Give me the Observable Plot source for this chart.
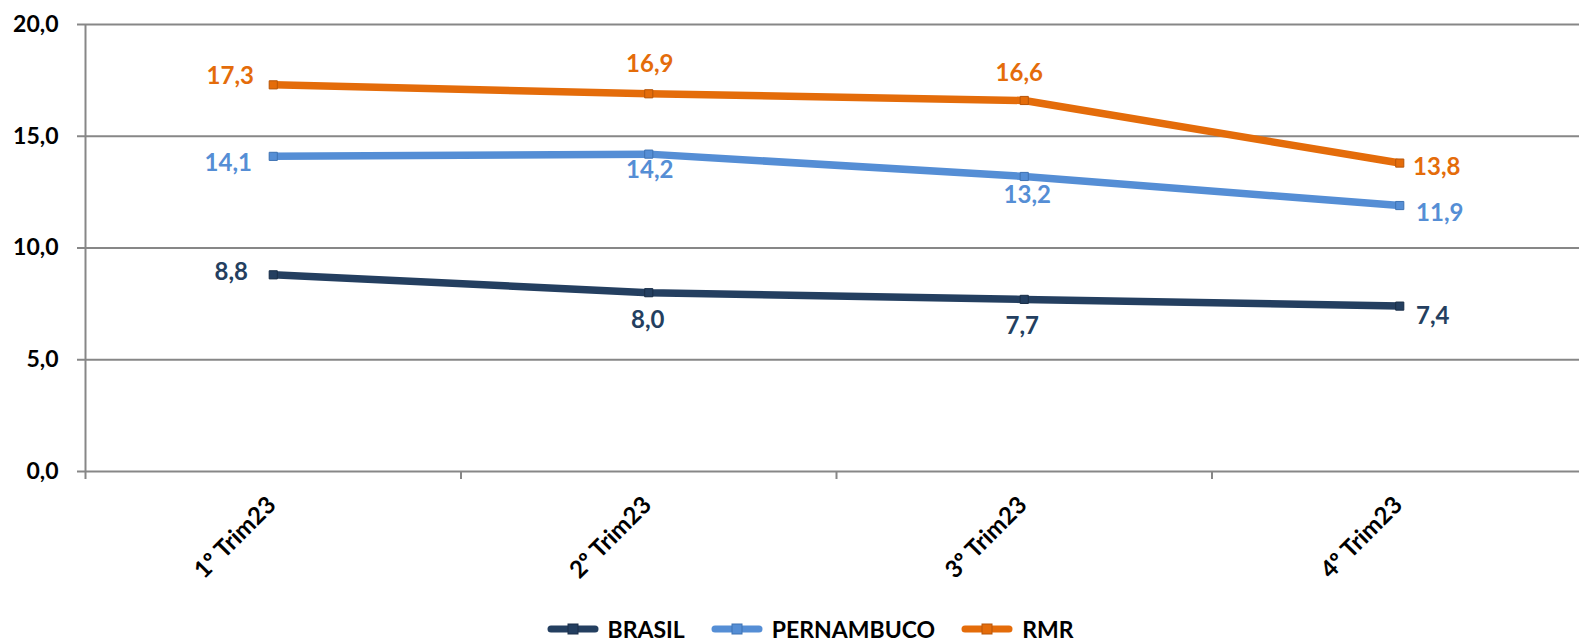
<!DOCTYPE html>
<html><head><meta charset="utf-8">
<script src="https://cdn.jsdelivr.net/npm/d3@7"></script>
<script src="https://cdn.jsdelivr.net/npm/@observablehq/plot@0.6"></script>
<style>
body{margin:0;background:#fff;font-family:Lato,"Open Sans",sans-serif;}
#wrap{position:relative;width:1579px;height:644px;overflow:hidden;}
#legend{position:absolute;left:0;top:615px;width:1579px;height:28px;display:flex;justify-content:center;align-items:center;padding-left:41px;box-sizing:border-box;font-weight:bold;font-size:23px;color:#000;}
.item{display:flex;align-items:center;margin:0 13px;}
.item svg{margin-right:9px;}
</style></head><body><div id="wrap"><div id="chart"></div><div id="legend"></div></div>
<script>
// ---- data ----
const categories = ["1º Trim23", "2º Trim23", "3º Trim23", "4º Trim23"];
const series = ["BRASIL", "PERNAMBUCO", "RMR"];
const brasil = [8.8, 8.0, 7.7, 7.4];
const pernambuco = [14.1, 14.2, 13.2, 11.9];
const rmr = [17.3, 16.9, 16.6, 13.8];
const yTicks = [0, 5, 10, 15, 20];

// ---- styles / layout ----
const colors = ["#243F60", "#558ED5", "#E46C0A"];
const markerStroke = ["#1a2f48", "#3f73b3", "#b8560a"];
// label offsets [dx, dy] per series, per category
const labelOffsets = {
  BRASIL: [[-42, -3], [-1, 28], [-2, 27], [33, 10]],
  PERNAMBUCO: [[-45, 7], [1, 16], [3, 19], [40, 8]],
  RMR: [[-43, -9], [1, -29], [-5, -27], [37, 4]]
};

const values = {BRASIL: brasil, PERNAMBUCO: pernambuco, RMR: rmr};
const rows = series.flatMap(s => values[s].map((v, i) => ({series: s, i, value: v})));
const fmt = v => v.toFixed(1).replace(".", ",");
const gridColor = "#878787";

const chart = Plot.plot({
  width: 1579, height: 612,
  marginLeft: 85, marginRight: 0, marginTop: 24, marginBottom: 141,
  style: {fontFamily: "Lato, 'Open Sans', sans-serif", fontWeight: "bold", background: "#fff"},
  x: {domain: [-0.5, 3.5], range: [85, 1587], axis: null},
  y: {domain: [0, 20], range: [471, 24], axis: null},
  color: {domain: series, range: colors},
  marks: [
    Plot.ruleY(yTicks, {y: d => d, stroke: gridColor, strokeWidth: 2}),
    Plot.ruleY(yTicks, {y: d => d, x1: -0.5, x2: -0.5, insetLeft: -8, stroke: gridColor, strokeWidth: 2}),
    Plot.text(yTicks, {y: d => d, frameAnchor: "left", text: fmt, textAnchor: "end", dx: -27,
      fontSize: 23, fontWeight: "bold", fill: "#000"}),
    Plot.ruleX([-0.5], {y1: 20, y2: 0, insetBottom: -8, stroke: gridColor, strokeWidth: 2}),
    Plot.ruleX([0.5, 1.5, 2.5, 3.5], {y1: 0, y2: 0, insetBottom: -8, stroke: gridColor, strokeWidth: 2}),
    Plot.line(rows, {x: "i", y: "value", z: "series", stroke: "series", strokeWidth: 7.5}),
    ...series.map((s, k) => Plot.dot(rows.filter(r => r.series === s), {x: "i", y: "value", symbol: "square", r: 4.6,
      fill: colors[k], stroke: markerStroke[k], strokeWidth: 1})),
    ...rows.map(r => Plot.text([r], {x: "i", y: "value", text: d => fmt(d.value),
      fill: colors[series.indexOf(r.series)], fontSize: 24, fontWeight: "bold",
      dx: labelOffsets[r.series][r.i][0], dy: labelOffsets[r.series][r.i][1]})),
    Plot.text(categories, {x: (d, i) => i, frameAnchor: "bottom", text: d => d, rotate: -45, textAnchor: "end",
      fontSize: 24, fontWeight: "bold", fill: "#000", dx: 4, dy: 35})
  ]
});
document.getElementById("chart").appendChild(chart);

// legend
const legend = document.getElementById("legend");
series.forEach((s, k) => {
  const item = document.createElement("div");
  item.className = "item";
  item.innerHTML = `<svg width="52" height="16"><line x1="4" y1="8" x2="48" y2="8" stroke="${colors[k]}" stroke-width="7" stroke-linecap="round"/><rect x="21" y="3" width="10" height="10" fill="${colors[k]}" stroke="${markerStroke[k]}"/></svg><span>${s}</span>`;
  legend.appendChild(item);
});
</script></body></html>
